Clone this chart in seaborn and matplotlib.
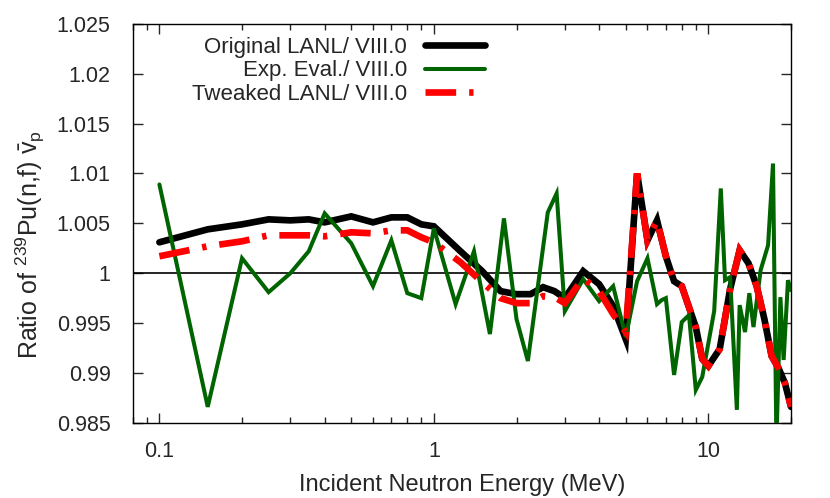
import numpy as np
import matplotlib
matplotlib.use("Agg")
import matplotlib.pyplot as plt
import matplotlib.ticker as mticker
from matplotlib.lines import Line2D
import seaborn as sns

# LANL curves (original and tweaked) share one energy grid
energy_lanl = [0.1, 0.15, 0.2, 0.25, 0.3, 0.35, 0.4, 0.5, 0.6, 0.7, 0.8, 0.9, 1.0,
               1.25, 1.5, 1.75, 2.0, 2.25, 2.5, 2.75, 3.0, 3.5, 4.0, 4.5, 5.0, 5.5,
               6.0, 6.5, 7.0, 7.5, 8.0, 9.0, 9.5, 10.0, 11.0, 12.0, 13.0, 14.0, 15.0,
               16.0, 17.0, 18.0, 19.0, 20.0]
ratio_original = [1.0031, 1.0044, 1.0049, 1.0054, 1.0053, 1.0054, 1.0051, 1.0057, 1.0051,
                  1.0056, 1.0056, 1.0049, 1.0047, 1.0022, 1.0002, 0.9982, 0.9979, 0.9979,
                  0.9986, 0.9982, 0.9975, 1.0002, 0.9989, 0.9967, 0.9934, 1.0100, 1.0033,
                  1.0053, 1.0017, 0.9992, 0.9987, 0.9946, 0.9914, 0.9907, 0.9924, 0.9984,
                  1.0023, 1.0010, 0.9987, 0.9954, 0.9917, 0.9905, 0.9890, 0.9866]
ratio_tweaked = [1.0017, 1.0027, 1.0032, 1.0038, 1.0038, 1.0038, 1.0037, 1.0041, 1.0040,
                 1.0043, 1.0043, 1.0036, 1.0031, 1.0011, 0.9991, 0.9975, 0.9970, 0.9970,
                 0.9977, 0.9976, 0.9970, 0.9995, 0.9982, 0.9959, 0.9941, 1.0100, 1.0033,
                 1.0053, 1.0017, 0.9992, 0.9987, 0.9946, 0.9914, 0.9907, 0.9924, 0.9984,
                 1.0023, 1.0010, 0.9987, 0.9954, 0.9917, 0.9905, 0.9890, 0.9866]

# experimental evaluation
energy_exp = [0.1, 0.15, 0.2, 0.25, 0.3, 0.35, 0.4, 0.5, 0.6, 0.7, 0.8, 0.9, 1.0, 1.2,
              1.4, 1.6, 1.8, 2.0, 2.2, 2.6, 2.8, 3.0, 3.5, 4.0, 4.5, 5.0, 5.5, 6.0, 6.5,
              6.75, 7.0, 7.5, 8.0, 8.5, 9.0, 9.5, 10.5, 11.1, 11.5, 12.0, 12.7, 13.0,
              13.6, 14.1, 14.6, 15.5, 16.5, 17.2, 17.7, 18.3, 18.8, 19.5, 20.0]
ratio_exp = [1.0089, 0.9866, 1.0015, 0.9981, 1.0000, 1.0022, 1.0060, 1.0030, 0.9987, 1.0033,
             0.9980, 0.9975, 1.0045, 0.9969, 1.0022, 0.9939, 1.0055, 0.9954, 0.9912, 1.0061,
             1.0080, 0.9962, 0.9994, 0.9972, 0.9987, 0.9936, 0.9992, 1.0015, 0.9969, 0.9973,
             0.9975, 0.9898, 0.9951, 0.9958, 0.9883, 0.9896, 0.9962, 1.0085, 0.9993, 0.9996,
             0.9863, 0.9968, 0.9941, 0.9980, 0.9946, 1.0003, 1.0028, 1.0110, 0.9830, 0.9976,
             0.9913, 0.9993, 0.9983]

labels = ["Original LANL/ VIII.0", "Exp. Eval./ VIII.0", "Tweaked LANL/ VIII.0"]
colors = ["black", "#006400", "#ff0000"]

sns.set_style("ticks")
plt.rcParams["font.family"] = ["Liberation Sans", "DejaVu Sans"]
plt.rcParams["mathtext.fontset"] = "custom"
plt.rcParams["mathtext.rm"] = "Liberation Sans"
plt.rcParams["mathtext.it"] = "Liberation Sans:italic"

fig, ax = plt.subplots(figsize=(8.3, 4.98), dpi=100)
fig.subplots_adjust(left=0.16, right=0.953, top=0.952, bottom=0.151)

ax.axhline(1.0, color="black", lw=1.2, zorder=1)

red_dash = (0, (4.6, 1.95, 0.65, 1.95))
sns.lineplot(x=energy_lanl, y=ratio_original, ax=ax, color=colors[0], lw=4.8,
             solid_joinstyle="miter", zorder=2)
sns.lineplot(x=energy_exp, y=ratio_exp, ax=ax, color=colors[1], lw=2.9,
             solid_joinstyle="miter", zorder=3)
sns.lineplot(x=energy_lanl, y=ratio_tweaked, ax=ax, color=colors[2], lw=4.8,
             linestyle=red_dash, dash_capstyle="butt", dash_joinstyle="miter", zorder=4)

ax.set_xscale("log")
ax.set_xlim(0.08, 20)
ax.set_ylim(0.985, 1.025)

ax.xaxis.set_major_locator(mticker.FixedLocator([0.1, 1, 10]))
ax.xaxis.set_major_formatter(mticker.FixedFormatter(["0.1", "1", "10"]))
ax.xaxis.set_minor_locator(mticker.LogLocator(base=10, subs=np.arange(2, 10)))
ax.xaxis.set_minor_formatter(mticker.NullFormatter())
ax.yaxis.set_major_locator(mticker.MultipleLocator(0.005))
ax.yaxis.set_major_formatter(mticker.FuncFormatter(lambda v, p: f"{v:g}"))

ax.tick_params(which="both", direction="in", top=True, right=True, width=1, labelsize=15.5)
ax.tick_params(which="major", length=7.5)
ax.tick_params(which="minor", length=4)
ax.tick_params(axis="y", pad=16)
ax.tick_params(axis="x", pad=13)
for s in ax.spines.values():
    s.set_linewidth(1)
    s.set_color("black")

ax.set_xlabel("Incident Neutron Energy (MeV)", fontsize=17, labelpad=9)
ax.set_ylabel(r"Ratio of $^{239}$Pu(n,f) $\bar{\mathrm{v}}_{\mathrm{p}}$", fontsize=18)
ax.yaxis.set_label_coords(-0.13, 0.448)

handles = [Line2D([], [], color=colors[0], lw=4.8),
           Line2D([], [], color=colors[1], lw=2.9),
           Line2D([], [], color=colors[2], lw=4.8, linestyle=red_dash, dash_capstyle="butt")]
ax.legend(handles, labels, loc="upper right", bbox_to_anchor=(0.535, 0.968),
          frameon=False, markerfirst=False, fontsize=16, handlelength=2.7,
          handletextpad=0.8, labelspacing=0.12, borderpad=0, borderaxespad=0)

fig.savefig("out.png", dpi=100)
